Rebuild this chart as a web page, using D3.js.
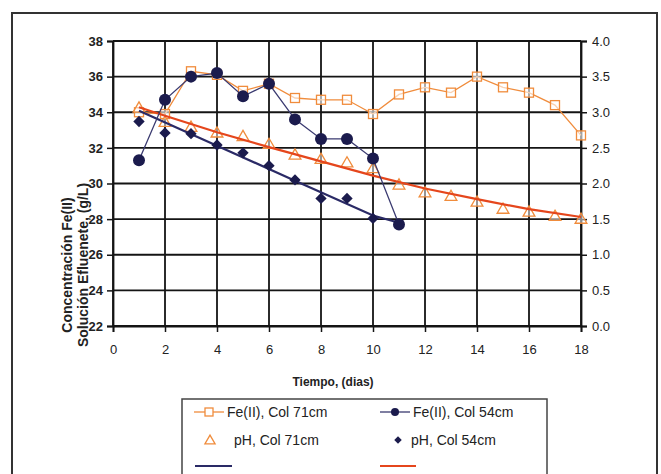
<!DOCTYPE html>
<html>
<head>
<meta charset="utf-8">
<script src="https://cdnjs.cloudflare.com/ajax/libs/d3/7.8.5/d3.min.js"></script>
<style>
  body { margin: 0; background: #fff; }
  svg { display: block; font-family: "Liberation Sans", Arial, sans-serif; }
</style>
</head>
<body>
<div id="container"></div>
<script>
const WIDTH = 661;
const HEIGHT = 474;

// values
const days = [1, 2, 3, 4, 5, 6, 7, 8, 9, 10, 11, 12, 13, 14, 15, 16, 17, 18];
const fe71 = [34.0, 33.9, 36.3, 36.1, 35.2, 35.6, 34.8, 34.7, 34.7, 33.9, 35.0, 35.4, 35.1, 36.0, 35.4, 35.1, 34.4, 32.7];
const fe54 = [31.3, 34.7, 36.0, 36.2, 34.9, 35.6, 33.6, 32.5, 32.5, 31.4, 27.7];
const ph71 = [3.05, 2.85, 2.78, 2.7, 2.65, 2.54, 2.39, 2.33, 2.28, 2.2, 1.97, 1.86, 1.81, 1.73, 1.63, 1.59, 1.53, 1.49];
const ph54 = [2.87, 2.71, 2.7, 2.54, 2.43, 2.25, 2.05, 1.79, 1.79, 1.51];
const trend71Days = [1, 2, 4, 6, 8, 10, 12, 14, 16, 18];
const trend71 = [3.07, 2.95, 2.72, 2.51, 2.31, 2.11, 1.93, 1.78, 1.64, 1.53];
const trend54Days = [1, 4, 7, 10, 11];
const trend54 = [3.02, 2.53, 2.04, 1.55, 1.45];
const xTicks = [0, 2, 4, 6, 8, 10, 12, 14, 16, 18];
const leftTicks = [22, 24, 26, 28, 30, 32, 34, 36, 38];
const rightTicks = [0, 0.5, 1, 1.5, 2, 2.5, 3, 3.5, 4];

const NAVY = "#1b1b4d";
const ORANGE = "#f08c3c";
const RED = "#e5461c";

const svg = d3
  .select("div#container")
  .append("svg")
  .attr("width", WIDTH)
  .attr("height", HEIGHT);

// outer frame
svg
  .append("rect")
  .attr("x", 12)
  .attr("y", 13)
  .attr("width", 645)
  .attr("height", 480)
  .attr("fill", "#fff")
  .attr("stroke", "#333")
  .attr("stroke-width", 2);

const xScale = d3.scaleLinear().domain([0, 18]).range([113, 581]);
const yLeft = d3.scaleLinear().domain([22, 38]).range([326, 41]);
const yRight = d3.scaleLinear().domain([0, 4]).range([326, 41]);

// grid
const grid = svg.append("g").attr("stroke", "#141414").attr("stroke-width", 1.8);
grid
  .selectAll("line.h")
  .data(leftTicks)
  .enter()
  .append("line")
  .attr("x1", xScale(0))
  .attr("x2", xScale(18))
  .attr("y1", (d) => yLeft(d))
  .attr("y2", (d) => yLeft(d));
grid
  .selectAll("line.v")
  .data(xTicks)
  .enter()
  .append("line")
  .attr("y1", yLeft(22))
  .attr("y2", yLeft(38))
  .attr("x1", (d) => xScale(d))
  .attr("x2", (d) => xScale(d));

// axes
const xAxis = d3.axisBottom(xScale).tickValues(xTicks).tickSize(6).tickPadding(13);
const leftAxis = d3.axisLeft(yLeft).tickValues(leftTicks).tickSize(6).tickPadding(4);
const rightAxis = d3
  .axisRight(yRight)
  .tickValues(rightTicks)
  .tickSize(6)
  .tickPadding(5)
  .tickFormat(d3.format(".1f"));

const gx = svg.append("g").attr("transform", `translate(0, ${yLeft(22)})`).call(xAxis);
const gl = svg.append("g").attr("transform", `translate(${xScale(0)}, 0)`).call(leftAxis);
const gr = svg.append("g").attr("transform", `translate(${xScale(18)}, 0)`).call(rightAxis);

[gx, gl, gr].forEach((g) => {
  g.select(".domain").attr("stroke", "#141414").attr("stroke-width", 1.8);
  g.selectAll(".tick line").attr("stroke", "#141414").attr("stroke-width", 1.5);
  g.selectAll(".tick text").attr("fill", "#222").attr("font-size", 13);
});
gl.selectAll(".tick text").attr("font-weight", "bold");

// axis titles
svg
  .append("text")
  .attr("x", 333)
  .attr("y", 386)
  .attr("text-anchor", "middle")
  .attr("font-size", 12)
  .attr("font-weight", "bold")
  .attr("fill", "#222")
  .text("Tiempo, (dias)");

const yTitle = svg
  .append("text")
  .attr("transform", "translate(72, 265) rotate(-90)")
  .attr("text-anchor", "middle")
  .attr("font-size", 14)
  .attr("font-weight", "bold")
  .attr("fill", "#222");
yTitle.append("tspan").attr("x", 0).attr("dy", 0).text("Concentración Fe(II)");
yTitle.append("tspan").attr("x", 0).attr("dy", 16).text("Solución Efluenete, (g/L)");

const plot = svg.append("g");

// Fe(II) Col 71cm
const valueLine = d3
  .line()
  .x((d, i) => xScale(days[i]))
  .y((d) => yLeft(d));
plot
  .append("path")
  .datum(fe71)
  .attr("d", valueLine)
  .attr("fill", "none")
  .attr("stroke", ORANGE)
  .attr("stroke-width", 1.3);
plot
  .selectAll("rect.fe71")
  .data(fe71)
  .enter()
  .append("rect")
  .attr("class", "fe71")
  .attr("x", (d, i) => xScale(days[i]) - 4.5)
  .attr("y", (d) => yLeft(d) - 4.5)
  .attr("width", 9)
  .attr("height", 9)
  .attr("fill", "#fff")
  .attr("fill-opacity", 0.6)
  .attr("stroke", ORANGE)
  .attr("stroke-width", 1.3);

// pH Col 71cm
const triangle = d3.symbol().type(d3.symbolTriangle).size(60);
plot
  .selectAll("path.ph71")
  .data(ph71)
  .enter()
  .append("path")
  .attr("class", "ph71")
  .attr("d", triangle)
  .attr("transform", (d, i) => `translate(${xScale(days[i])}, ${yRight(d)})`)
  .attr("fill", "#fff")
  .attr("fill-opacity", 0.5)
  .attr("stroke", ORANGE)
  .attr("stroke-width", 1.3);

// trend lines
const trendLine = (xs) =>
  d3
    .line()
    .x((d, i) => xScale(xs[i]))
    .y((d) => yRight(d));
plot
  .append("path")
  .datum(trend71)
  .attr("d", trendLine(trend71Days))
  .attr("fill", "none")
  .attr("stroke", RED)
  .attr("stroke-width", 2.2);
plot
  .append("path")
  .datum(trend54)
  .attr("d", trendLine(trend54Days))
  .attr("fill", "none")
  .attr("stroke", "#2a2a66")
  .attr("stroke-width", 2.2);

// Fe(II) Col 54cm
plot
  .append("path")
  .datum(fe54)
  .attr("d", valueLine)
  .attr("fill", "none")
  .attr("stroke", "#3a3a70")
  .attr("stroke-width", 1.3);
plot
  .selectAll("circle.fe54")
  .data(fe54)
  .enter()
  .append("circle")
  .attr("cx", (d, i) => xScale(days[i]))
  .attr("cy", (d) => yLeft(d))
  .attr("r", 6)
  .attr("fill", NAVY);

// pH Col 54cm
const diamond = d3.symbol().type(d3.symbolSquare).size(64);
plot
  .selectAll("path.ph54")
  .data(ph54)
  .enter()
  .append("path")
  .attr("d", diamond)
  .attr("transform", (d, i) => `translate(${xScale(days[i])}, ${yRight(d)}) rotate(45)`)
  .attr("fill", NAVY);

// legend
const legend = svg.append("g");
legend
  .append("rect")
  .attr("x", 182)
  .attr("y", 399)
  .attr("width", 365)
  .attr("height", 90)
  .attr("fill", "#fff")
  .attr("stroke", "#444")
  .attr("stroke-width", 1.5);

const legText = (x, y, t) =>
  legend
    .append("text")
    .attr("x", x)
    .attr("y", y)
    .attr("font-size", 14)
    .attr("fill", "#222")
    .text(t);

legend.append("line").attr("x1", 194).attr("x2", 224).attr("y1", 412).attr("y2", 412)
  .attr("stroke", ORANGE).attr("stroke-width", 1.3);
legend.append("rect").attr("x", 205).attr("y", 408).attr("width", 8).attr("height", 8)
  .attr("fill", "#fff").attr("stroke", ORANGE).attr("stroke-width", 1.3);
legText(227, 417, "Fe(II), Col 71cm");

legend.append("line").attr("x1", 380).attr("x2", 410).attr("y1", 412).attr("y2", 412)
  .attr("stroke", "#3a3a70").attr("stroke-width", 1.3);
legend.append("circle").attr("cx", 395).attr("cy", 412).attr("r", 4).attr("fill", NAVY);
legText(413, 417, "Fe(II), Col 54cm");

legend.append("path").attr("d", triangle.size(45)).attr("transform", "translate(210, 441)")
  .attr("fill", "#fff").attr("stroke", ORANGE).attr("stroke-width", 1.3);
legText(234, 445, "pH, Col 71cm");

legend.append("path").attr("d", diamond.size(28)).attr("transform", "translate(398, 440) rotate(45)")
  .attr("fill", NAVY);
legText(411, 445, "pH, Col 54cm");

legend.append("line").attr("x1", 195).attr("x2", 232).attr("y1", 466).attr("y2", 466)
  .attr("stroke", "#2a2a66").attr("stroke-width", 2.2);
legend.append("line").attr("x1", 380).attr("x2", 416).attr("y1", 466).attr("y2", 466)
  .attr("stroke", RED).attr("stroke-width", 2.2);
</script>
</body>
</html>
